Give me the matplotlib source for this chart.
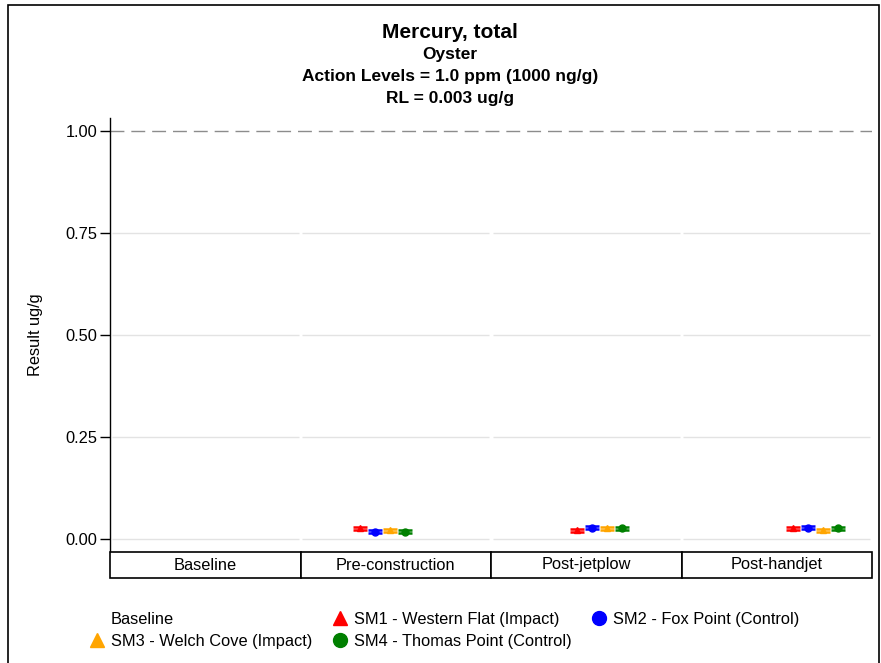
import numpy as np
import matplotlib.pyplot as plt
from matplotlib.lines import Line2D
from matplotlib.patches import Rectangle

plt.rcParams['font.family'] = ['Liberation Sans', 'DejaVu Sans']

# sampling events and stations
events = ['Baseline', 'Pre-construction', 'Post-jetplow', 'Post-handjet']
stations = ['SM1 - Western Flat (Impact)', 'SM2 - Fox Point (Control)',
            'SM3 - Welch Cove (Impact)', 'SM4 - Thomas Point (Control)']
colors = ['red', 'blue', 'orange', 'green']
markers = ['^', 'o', '^', 'o']

# mercury result (ug/g) per station, one value per event (nan = not sampled)
sm1 = [np.nan, 0.025, 0.020, 0.025]
sm2 = [np.nan, 0.017, 0.027, 0.027]
sm3 = [np.nan, 0.020, 0.025, 0.020]
sm4 = [np.nan, 0.017, 0.025, 0.025]
# min/max spread around each result
spread = 0.004

action_level = 1.0
yticks = [0.0, 0.25, 0.50, 0.75, 1.00]

# sampling date shift within each event panel (fraction of panel width)
event_shift = [0.0, -0.19, -0.05, 0.084]
dodge = 0.079

fs = 11.8

fig = plt.figure(figsize=(8.81, 6.63), dpi=100)
ax = fig.add_axes([110 / 881, 1 - 552 / 663, 762 / 881, 434 / 663])
tab = fig.add_axes([110 / 881, 1 - 578 / 663, 762 / 881, 26 / 663])

# grid lines drawn per panel so they break at the panel edges
for i in range(len(events)):
    for t in yticks[:-1]:
        ax.hlines(t, i - 0.5 + 0.008, i + 0.5 - 0.008, color='#e3e3e3', lw=1, zorder=1)
ax.axhline(action_level, color='#8c8c8c', lw=1, dashes=(10, 5), zorder=1)

for k, vals in enumerate([sm1, sm2, sm3, sm4]):
    x = np.arange(len(events)) + np.array(event_shift) + k * dodge
    ax.errorbar(x, vals, yerr=spread, fmt=markers[k], color=colors[k],
                ms=5, capsize=5, elinewidth=1.5, capthick=1.8, zorder=3)

ax.set_xlim(-0.5, 3.5)
ax.set_ylim(-0.033, 1.032)
ax.set_yticks(yticks)
ax.set_yticklabels(['%.2f' % t for t in yticks], fontsize=fs)
ax.set_xticks([])
for s in ['top', 'right', 'bottom']:
    ax.spines[s].set_visible(False)
ax.spines['left'].set_linewidth(1)
ax.tick_params(axis='y', length=7, width=1, pad=2)
ax.set_ylabel('Result ug/g', fontsize=fs, labelpad=16)

# event labels along the bottom
table = tab.table(cellText=[events], cellLoc='center', bbox=[0, 0, 1, 1])
table.auto_set_font_size(False)
table.set_fontsize(fs)
for cell in table.get_celld().values():
    cell.set_linewidth(1.2)
    cell.set_edgecolor('black')
tab.axis('off')

fig.text(0.511, 1 - 32 / 663, 'Mercury, total', ha='center', va='center',
         fontsize=15, fontweight='bold')
fig.text(0.511, 1 - 54 / 663, 'Oyster', ha='center', va='center',
         fontsize=12.5, fontweight='bold')
fig.text(0.511, 1 - 76 / 663, 'Action Levels = 1.0 ppm (1000 ng/g)', ha='center',
         va='center', fontsize=12.5, fontweight='bold')
fig.text(0.511, 1 - 98 / 663, 'RL = 0.003 ug/g', ha='center', va='center',
         fontsize=12.5, fontweight='bold')

handles = {'Baseline': Line2D([], [], ls='none', marker='')}
for k, name in enumerate(stations):
    handles[name] = Line2D([], [], ls='none', marker=markers[k], color=colors[k], ms=10)
order = ['Baseline', stations[2], stations[0], stations[3], stations[1]]
fig.legend([handles[n] for n in order], order, ncol=3, loc='upper left',
           bbox_to_anchor=(82 / 881, 1 - 604 / 663), frameon=False, fontsize=fs,
           handlelength=0.8, handletextpad=0.45, columnspacing=1.3,
           labelspacing=0.42, borderpad=0)

fig.patches.append(Rectangle((8 / 881, -0.01), 871 / 881, 1 - 5 / 663 + 0.01,
                             transform=fig.transFigure, fill=False,
                             edgecolor='black', lw=1.2))

fig.savefig('out.png', dpi=100)
